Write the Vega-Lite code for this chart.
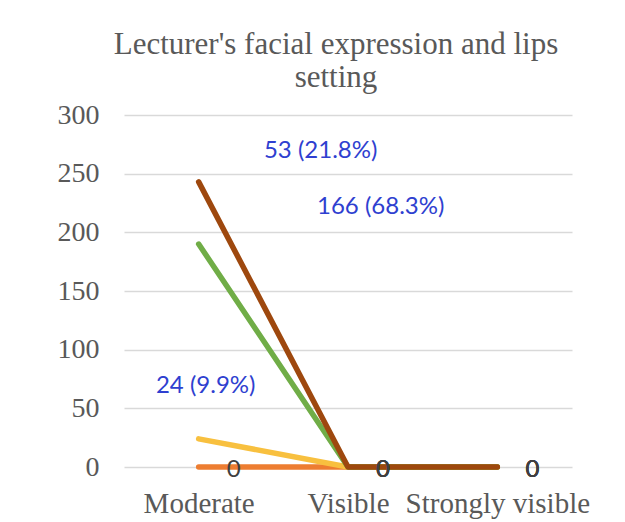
{
  "$schema": "https://vega.github.io/schema/vega-lite/v6.json",
  "width": 448,
  "height": 352,
  "autosize": {"type": "none"},
  "padding": {"left": 124, "top": 115, "right": 53, "bottom": 55},
  "background": "white",
  "config": {"view": {"stroke": null}},
  "title": {
    "text": ["Lecturer's facial expression and lips", "setting"],
    "font": "Liberation Serif",
    "fontSize": 31,
    "fontWeight": "normal",
    "color": "#595959",
    "lineHeight": 33,
    "anchor": "middle",
    "dx": -12,
    "offset": 7
  },
  "data": {
    "values": [
      {"series": "Series1", "idx": 1, "cat": "Moderate", "value": 0, "label": "0"},
      {"series": "Series1", "idx": 1, "cat": "Visible", "value": 0, "label": "0"},
      {"series": "Series1", "idx": 1, "cat": "Strongly visible", "value": 0, "label": "0"},
      {"series": "Series2", "idx": 2, "cat": "Moderate", "value": 24, "label": "24 (9.9%)"},
      {"series": "Series2", "idx": 2, "cat": "Visible", "value": 0, "label": "0"},
      {"series": "Series2", "idx": 2, "cat": "Strongly visible", "value": 0, "label": "0"},
      {"series": "Series3", "idx": 3, "cat": "Moderate", "value": 166, "label": "166 (68.3%)"},
      {"series": "Series3", "idx": 3, "cat": "Visible", "value": 0, "label": "0"},
      {"series": "Series3", "idx": 3, "cat": "Strongly visible", "value": 0, "label": "0"},
      {"series": "Series4", "idx": 4, "cat": "Moderate", "value": 53, "label": "53 (21.8%)"},
      {"series": "Series4", "idx": 4, "cat": "Visible", "value": 0, "label": "0"},
      {"series": "Series4", "idx": 4, "cat": "Strongly visible", "value": 0, "label": "0"}
    ]
  },
  "transform": [
    {"stack": "value", "groupby": ["cat"], "sort": [{"field": "idx", "order": "ascending"}], "as": ["y0", "y1"]}
  ],
  "encoding": {
    "x": {
      "field": "cat",
      "type": "ordinal",
      "sort": ["Moderate", "Visible", "Strongly visible"],
      "scale": {"type": "point", "padding": 0.5},
      "axis": {
        "title": null,
        "labelAngle": 0,
        "labelFont": "Liberation Serif",
        "labelFontSize": 29,
        "labelColor": "#595959",
        "labelPadding": 22,
        "labelLimit": 400,
        "ticks": false,
        "domain": false,
        "grid": false,
        "labelOverlap": false
      }
    },
    "y": {
      "field": "y1",
      "type": "quantitative",
      "scale": {"domain": [0, 300], "nice": false},
      "axis": {
        "title": null,
        "values": [0, 50, 100, 150, 200, 250, 300],
        "labelFont": "Liberation Serif",
        "labelFontSize": 28,
        "labelColor": "#595959",
        "labelPadding": 25,
        "ticks": false,
        "domain": false,
        "gridColor": "#d9d9d9",
        "gridWidth": 1.5
      }
    }
  },
  "layer": [
    {
      "mark": {"type": "line", "strokeWidth": 5.5, "strokeCap": "round", "strokeJoin": "round"},
      "encoding": {
        "color": {
          "field": "series",
          "type": "nominal",
          "scale": {"domain": ["Series1", "Series2", "Series3", "Series4"], "range": ["#ED7D31", "#F8C03F", "#70AD47", "#9E480E"]},
          "legend": null
        },
        "order": {"field": "idx"}
      }
    },
    {
      "transform": [{"filter": "datum.value == 0"}],
      "mark": {"type": "text", "font": "Lato", "fontSize": 24, "color": "#404040", "baseline": "middle", "dx": 35, "dy": 3},
      "encoding": {"text": {"field": "label"}}
    },
    {
      "transform": [{"filter": "datum.idx == 4 && datum.value > 0"}],
      "mark": {"type": "text", "font": "Lato", "fontSize": 24, "color": "#2F3FD0", "baseline": "middle", "dx": 122, "dy": -31},
      "encoding": {"text": {"field": "label"}}
    },
    {
      "transform": [{"filter": "datum.idx == 3 && datum.value > 0"}],
      "mark": {"type": "text", "font": "Lato", "fontSize": 24, "color": "#2F3FD0", "baseline": "middle", "dx": 182, "dy": -37},
      "encoding": {"text": {"field": "label"}}
    },
    {
      "transform": [{"filter": "datum.idx == 2 && datum.value > 0"}],
      "mark": {"type": "text", "font": "Lato", "fontSize": 24, "color": "#2F3FD0", "baseline": "middle", "dx": 7, "dy": -53},
      "encoding": {"text": {"field": "label"}}
    }
  ]
}
